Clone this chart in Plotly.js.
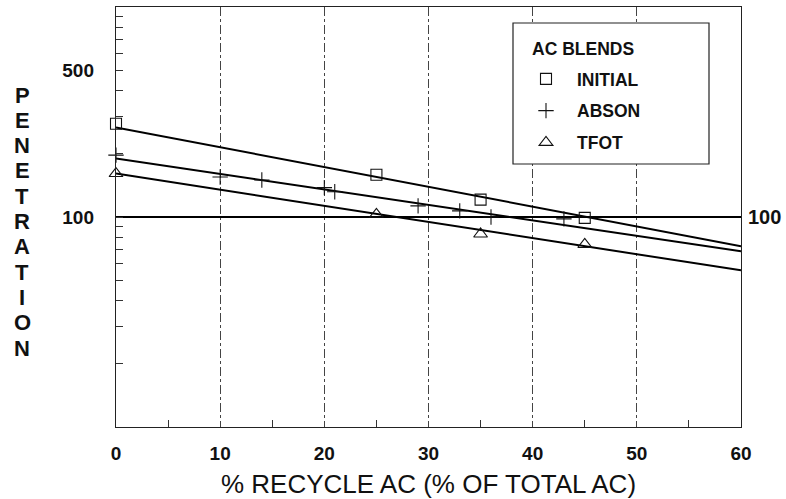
<!DOCTYPE html>
<html><head><meta charset="utf-8">
<script src="https://cdn.plot.ly/plotly-3.0.1.min.js"></script>
<style>html,body{margin:0;padding:0;background:#fff}</style>
</head><body><div id="chart" style="width:786px;height:499px"></div>
<script>
// ---- data ----
const initialX = [0, 25, 35, 45];
const initialY = [278, 159, 121, 99];
const absonX = [0, 10, 14, 20, 21, 29, 33, 36, 43];
const absonY = [197, 155, 150, 138, 132, 113, 107, 100, 98];
const tfotX = [0, 25, 35, 45];
const tfotY = [161, 103, 83, 74];
const fitX = [0, 60];
const fitInitial = [267, 72.6];
const fitAbson = [190, 68.7];
const fitTfot = [161, 55.7];
const refLevel = 100;
const xTicks = [0, 10, 20, 30, 40, 50, 60];
const xMinor = [5, 15, 25, 35, 45, 55];
const yTicks = [100, 500];
const yMinor = [20, 30, 40, 50, 60, 70, 80, 90, 200, 300, 400, 600, 700, 800, 900];
const seriesNames = ['INITIAL', 'ABSON', 'TFOT'];
const legendTitle = 'AC BLENDS';
const yTitle = 'PENETRATION';
const xTitle = '% RECYCLE AC (% OF TOTAL AC)';

// ---- drawing ----
const FONT = 'Liberation Sans, Arial, Helvetica, sans-serif';
const traces = [
  {x: fitX, y: fitInitial, mode: 'lines', line: {color: '#000', width: 2}, showlegend: false, hoverinfo: 'skip'},
  {x: fitX, y: fitAbson, mode: 'lines', line: {color: '#000', width: 2}, showlegend: false, hoverinfo: 'skip'},
  {x: fitX, y: fitTfot, mode: 'lines', line: {color: '#000', width: 2}, showlegend: false, hoverinfo: 'skip'},
  {x: [fitX[0], fitX[fitX.length - 1]], y: [refLevel, refLevel], mode: 'lines', line: {color: '#000', width: 2.2}, showlegend: false, hoverinfo: 'skip'},
  {x: initialX, y: initialY, name: seriesNames[0], legendgroup: 'a', mode: 'markers', cliponaxis: false,
   marker: {symbol: 'square-open', size: 11, color: '#111', line: {width: 1.1}}},
  {x: absonX, y: absonY, name: seriesNames[1], legendgroup: 'b', mode: 'markers', cliponaxis: false,
   marker: {symbol: 'cross-thin-open', size: 11, color: '#111', line: {width: 1.1, color: '#111'}}},
  {x: tfotX, y: tfotY, name: seriesNames[2], legendgroup: 'c', mode: 'markers', cliponaxis: false,
   marker: {symbol: 'triangle-up-open', size: 12, color: '#111', line: {width: 1.1}}}
];

const plotLeft = 116, plotW = 625, plotTop = 7, plotBottom = 427, plotH = plotBottom - plotTop;
const px2x = p => (p - plotLeft) / plotW;
const px2y = p => (plotBottom - p) / plotH;
const letters = yTitle.split('');
const annotations = letters.map((ch, i) => ({
  text: ch, xref: 'paper', yref: 'paper', x: px2x(22), xanchor: 'center',
  y: px2y(95 + i * 25.3), yanchor: 'middle', showarrow: false,
  font: {family: FONT, size: 22, color: '#111', weight: 'bold'}
}));
annotations.push({
  text: String(refLevel), xref: 'paper', yref: 'y', x: 1, xanchor: 'left', xshift: 5,
  y: Math.log10(refLevel), yanchor: 'middle', showarrow: false,
  font: {family: FONT, size: 20, color: '#111', weight: 'bold'}
});
annotations.push({
  text: legendTitle, xref: 'paper', yref: 'paper', x: px2x(530), xanchor: 'left',
  y: px2y(49), yanchor: 'middle', showarrow: false,
  font: {family: FONT, size: 17.5, color: '#111', weight: 'bold'}
});

const layout = {
  width: 786, height: 499,
  margin: {l: 116, r: 45, t: 7, b: 72, pad: 0},
  paper_bgcolor: '#fff', plot_bgcolor: '#fff',
  font: {family: FONT, color: '#111'},
  showlegend: true,
  legend: {
    x: px2x(515), y: px2y(61), xanchor: 'left', yanchor: 'top',
    bgcolor: 'rgba(0,0,0,0)', borderwidth: 0, itemwidth: 52,
    font: {family: FONT, size: 17.5, weight: 'bold', color: '#111'},
    tracegroupgap: 6, traceorder: 'grouped'
  },
  xaxis: {
    range: [0, 60], tickvals: xTicks, ticktext: xTicks.map(String),
    ticks: '', showgrid: true, gridcolor: '#444', gridwidth: 1, griddash: 'dashdot',
    showline: true, linecolor: '#222', linewidth: 1.2, mirror: true, zeroline: false,
    tickfont: {family: FONT, size: 19, weight: 'bold', color: '#111'},
    ticklabelstandoff: 9,
    minor: {tickvals: xMinor, ticks: 'inside', ticklen: 7, tickcolor: '#333', showgrid: false},
    title: {text: xTitle, font: {family: FONT, size: 26, color: '#111'}, standoff: 16}
  },
  yaxis: {
    type: 'log', range: [1, 3], tickvals: yTicks, ticktext: yTicks.map(String),
    ticks: 'inside', ticklen: 7, tickcolor: '#333', showgrid: false,
    showline: true, linecolor: '#222', linewidth: 1.2, mirror: true, zeroline: false,
    tickfont: {family: FONT, size: 19, weight: 'bold', color: '#111'},
    ticklabelstandoff: 17,
    minor: {tickvals: yMinor, ticks: 'inside', ticklen: 7, tickcolor: '#333', showgrid: false}
  },
  shapes: [{
    type: 'rect', xref: 'paper', yref: 'paper', layer: 'above',
    x0: px2x(513), x1: px2x(709), y0: px2y(164), y1: px2y(23),
    line: {color: '#222', width: 1.2}, fillcolor: '#fff'
  }],
  annotations: annotations
};

Plotly.newPlot('chart', traces, layout, {displayModeBar: false, staticPlot: true});
</script>
</body></html>
